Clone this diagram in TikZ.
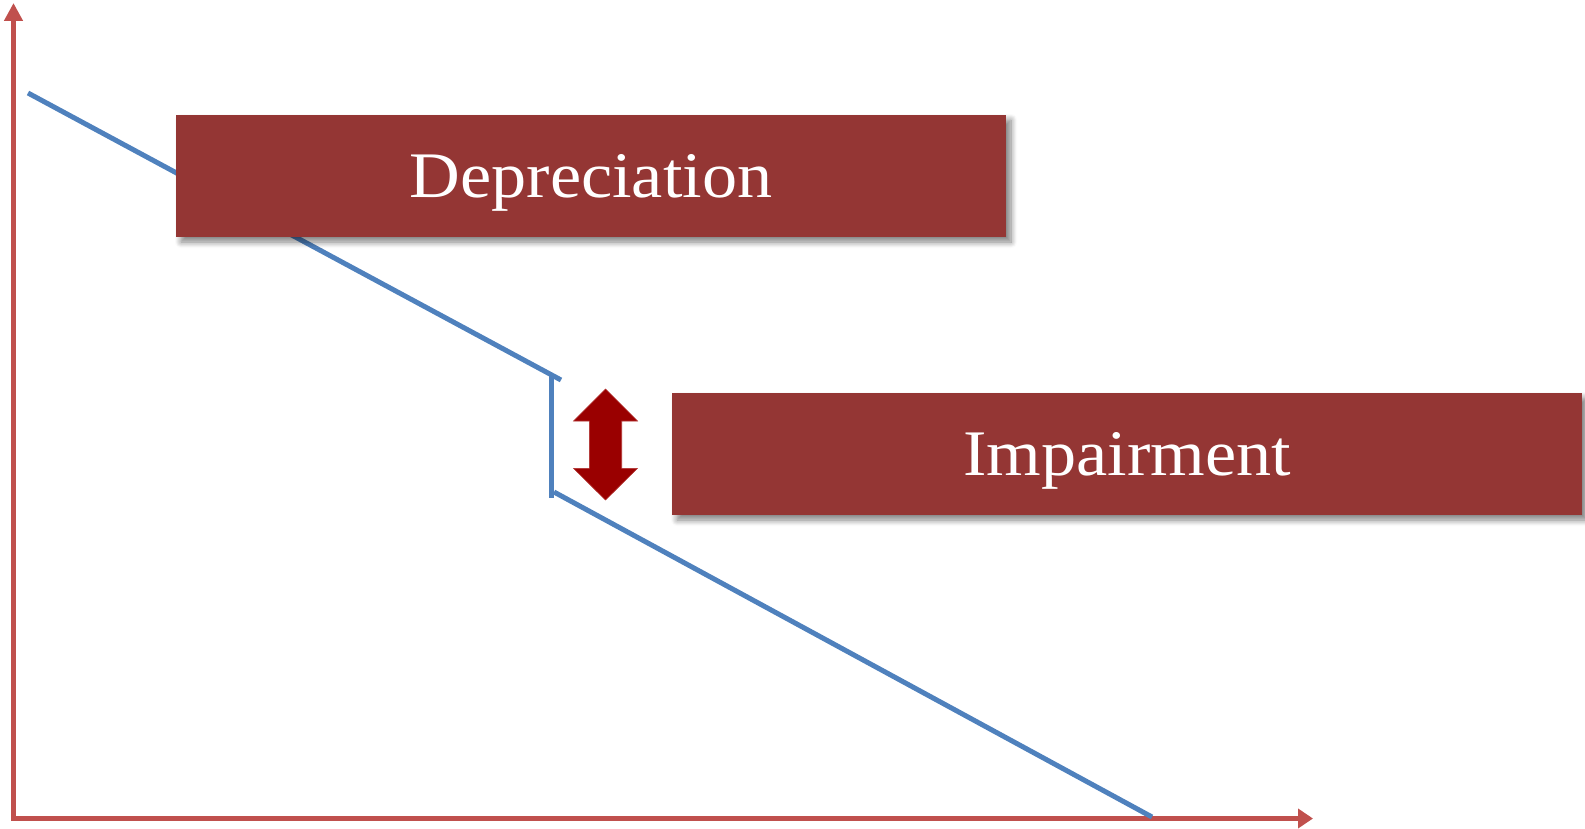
\documentclass[tikz,border=0pt]{standalone}
\usepackage{fontspec}
\setmainfont{Liberation Serif}[FakeStretch=1.08]
\usetikzlibrary{arrows.meta,shadows.blur}
\definecolor{axisred}{HTML}{C0504D}
\definecolor{lineblue}{HTML}{4F81BD}
\definecolor{boxred}{HTML}{943634}
\definecolor{arrowred}{HTML}{9A0000}
\tikzset{
  axis/.style={draw=axisred, line width=5.5pt, line join=miter},
  valueline/.style={draw=lineblue, line width=5pt},
  labelbox/.style={fill=boxred, draw=none, inner sep=0pt,
    blur shadow={shadow xshift=5pt, shadow yshift=-5pt, shadow blur steps=8, shadow opacity=50, shadow blur radius=6pt}},
  labeltext/.style={text=white, font=\fontsize{65}{78}\selectfont, inner sep=0pt, anchor=base},
  bigarrow/.style={fill=arrowred, draw=axisred!60!arrowred, line width=0.6pt}
}
\begin{document}
\begin{tikzpicture}[x=1pt, y=-1pt]
\useasboundingbox (0,0) rectangle (1585,829);
% axes
\draw[axis, {Triangle[length=18pt,width=18pt]}-{Triangle[length=15pt,width=19pt]}]
  (13.5,3) -- (13.5,818.5) -- (1313,818.5);
% value line
\draw[valueline] (28,93) -- (561,380);
\draw[valueline] (551.5,376) -- (551.5,498);
\draw[valueline] (554,492) -- (1152,817);
% boxes
\path[labelbox] (176,115) rectangle (1006,237);
\node[labeltext] (dep) at (591,198) {Depreciation};
\path[labelbox] (672,393) rectangle (1582,515);
\node[labeltext] (imp) at (1127,475) {Impairment};
% double arrow
\filldraw[bigarrow] (605.5,389) -- (637.5,421) -- (621.7,421) -- (621.7,468.3)
  -- (637.5,468.3) -- (605.5,500) -- (573.5,468.3) -- (589.3,468.3)
  -- (589.3,421) -- (573.5,421) -- cycle;
\end{tikzpicture}
\end{document}
